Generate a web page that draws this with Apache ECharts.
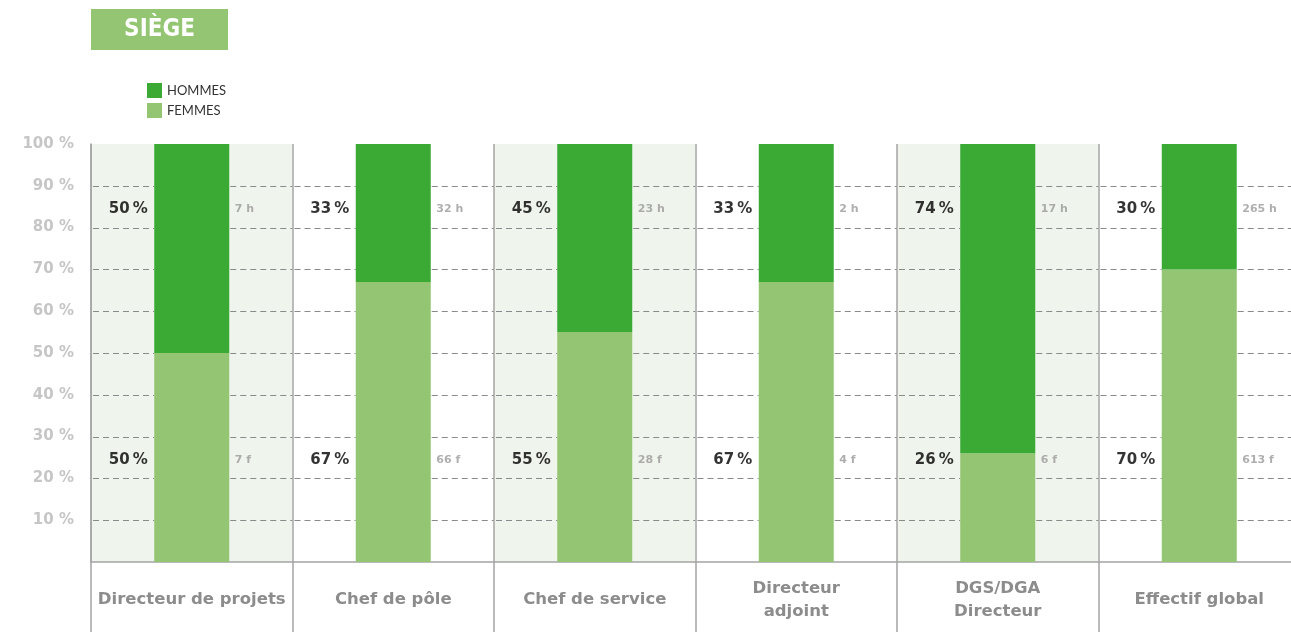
<!DOCTYPE html>
<html>
<head>
<meta charset="utf-8">
<script src="https://cdn.jsdelivr.net/npm/echarts@6/dist/echarts.min.js"></script>
<style>
  html, body { margin: 0; padding: 0; background: #fff; }
  #chart { width: 1291px; height: 632px; }
</style>
</head>
<body>
<div id="chart"></div>
<script>
// Répartition hommes / femmes par fonction — Siège
const categories = ['Directeur de projets', 'Chef de pôle', 'Chef de service', 'Directeur\nadjoint', 'DGS/DGA\nDirecteur', 'Effectif global'];
const hommesPct = [50, 33, 45, 33, 74, 30];
const femmesPct = [50, 67, 55, 67, 26, 70];
const hommesNb = [7, 32, 23, 2, 17, 265];
const femmesNb = [7, 66, 28, 4, 6, 613];
const yTicks = [10, 20, 30, 40, 50, 60, 70, 80, 90, 100];
const dashedLevels = [10, 20, 30, 40, 50, 60, 70, 80, 90];
const shadedColumns = [0, 2, 4];

const DARK = '#3aaa35';
const LIGHT = '#93c572';
const BAND = '#eff4ec';
const FONT = '"DejaVu Sans", sans-serif';
const BAR_W = 75;

// vertical anchors (in % of the axis) for the annotation rows
const ROW_H = 84.5;
const ROW_F = 24.3;

function labelRow(name, yVal, pcts, counts, suffix) {
  return [
    {
      type: 'scatter', name: name + '-pct', symbolSize: 0, silent: true, z: 12,
      data: pcts.map((v, i) => [i, yVal]),
      label: {
        show: true, position: 'left', distance: 44,
        formatter: p => pcts[p.dataIndex] + '\u2009%',
        color: '#000', fontFamily: FONT, fontWeight: 'bold', fontSize: 15
      }
    },
    {
      type: 'scatter', name: name + '-nb', symbolSize: 0, silent: true, z: 12,
      data: counts.map((v, i) => [i, yVal]),
      label: {
        show: true, position: 'right', distance: 43,
        formatter: p => counts[p.dataIndex] + ' ' + suffix,
        color: '#9a9a9a', fontFamily: FONT, fontWeight: 'bold', fontSize: 11
      }
    }
  ];
}

// dashed guide pieces on both sides of each bar
const guideData = [];
categories.forEach((c, i) => dashedLevels.forEach(v => guideData.push([i, v])));

const chart = echarts.init(document.getElementById('chart'));
chart.setOption({
  animation: false,
  backgroundColor: '#fff',
  graphic: [
    {
      type: 'group', left: 91, top: 9,
      children: [
        { type: 'rect', shape: { x: 0, y: 0, width: 137, height: 41 }, style: { fill: LIGHT } },
        { type: 'text', x: 68.5, y: 21, style: { text: 'SIÈGE', fill: '#fff', font: 'bold 24px "DejaVu Sans Condensed", "DejaVu Sans", sans-serif', align: 'center', verticalAlign: 'middle' } }
      ]
    }
  ],
  legend: {
    orient: 'vertical', left: 142, top: 78,
    itemWidth: 15, itemHeight: 15, itemGap: 5,
    icon: 'rect',
    data: ['HOMMES', 'FEMMES'],
    textStyle: { fontFamily: 'Lato, sans-serif', fontSize: 13, color: '#333', padding: [0, 0, 0, 0] },
    selectedMode: false
  },
  grid: { left: 91, top: 144, width: 1209, height: 418, outerBoundsMode: 'none' },
  xAxis: {
    type: 'category',
    data: categories,
    boundaryGap: true,
    axisLine: { show: true, lineStyle: { color: '#a4a4a4', width: 1.5 } },
    axisTick: { show: true, interval: 0, length: 75, lineStyle: { color: '#a4a4a4', width: 1.5 } },
    axisLabel: {
      interval: 0, margin: 38, verticalAlign: 'middle', lineHeight: 23,
      color: '#8c8c8c', fontFamily: FONT, fontWeight: 'bold', fontSize: 16.5
    },
    splitLine: { show: true, interval: 0, lineStyle: { color: '#a4a4a4', width: 1.5 } },
    splitArea: { show: false }
  },
  yAxis: {
    type: 'value', min: 0, max: 100, interval: 10,
    axisLine: { show: true, lineStyle: { color: '#a4a4a4', width: 1.5 } },
    axisTick: { show: false },
    axisLabel: {
      margin: 17,
      formatter: v => (yTicks.indexOf(v) >= 0 ? v + ' %' : ''),
      color: '#c6c6c6', fontFamily: FONT, fontWeight: 'bold', fontSize: 15
    },
    splitLine: { show: false }
  },
  series: [
    {
      // tinted background for alternate columns
      type: 'custom', name: 'bands', silent: true, z: -2,
      data: shadedColumns.map(i => [i, 0]),
      encode: { x: 0, y: 1 },
      renderItem: (params, api) => {
        const idx = api.value(0);
        const top = api.coord([idx, 100]);
        const bottom = api.coord([idx, 0]);
        const w = api.size([1, 0])[0];
        return {
          type: 'rect',
          shape: { x: top[0] - w / 2, y: top[1], width: w, height: bottom[1] - top[1] },
          style: { fill: BAND }
        };
      }
    },
    {
      // dashed guides, interrupted by the bars
      type: 'custom', name: 'guides', silent: true, z: -1,
      data: guideData,
      encode: { x: 0, y: 1 },
      renderItem: (params, api) => {
        const p = api.coord([api.value(0), api.value(1)]);
        const y = Math.round(p[1]) + 0.5;
        const colW = api.size([1, 0])[0];
        const style = { stroke: '#8a8a8a', lineWidth: 1, lineDash: [6, 4] };
        return {
          type: 'group',
          children: [
            { type: 'line', shape: { x1: p[0] - colW / 2 + 2, y1: y, x2: p[0] - BAR_W / 2, y2: y }, style },
            { type: 'line', shape: { x1: p[0] + BAR_W / 2 + 1, y1: y, x2: p[0] + colW / 2, y2: y }, style }
          ]
        };
      }
    },
    {
      type: 'bar', name: 'FEMMES', stack: 'total', barWidth: BAR_W,
      itemStyle: { color: LIGHT, opacity: 1 }, data: femmesPct, z: 10
    },
    {
      type: 'bar', name: 'HOMMES', stack: 'total', barWidth: BAR_W,
      itemStyle: { color: DARK, opacity: 1 }, data: hommesPct, z: 10
    },
    ...labelRow('h', ROW_H, hommesPct, hommesNb, 'h'),
    ...labelRow('f', ROW_F, femmesPct, femmesNb, 'f')
  ]
});
</script>
</body>
</html>
